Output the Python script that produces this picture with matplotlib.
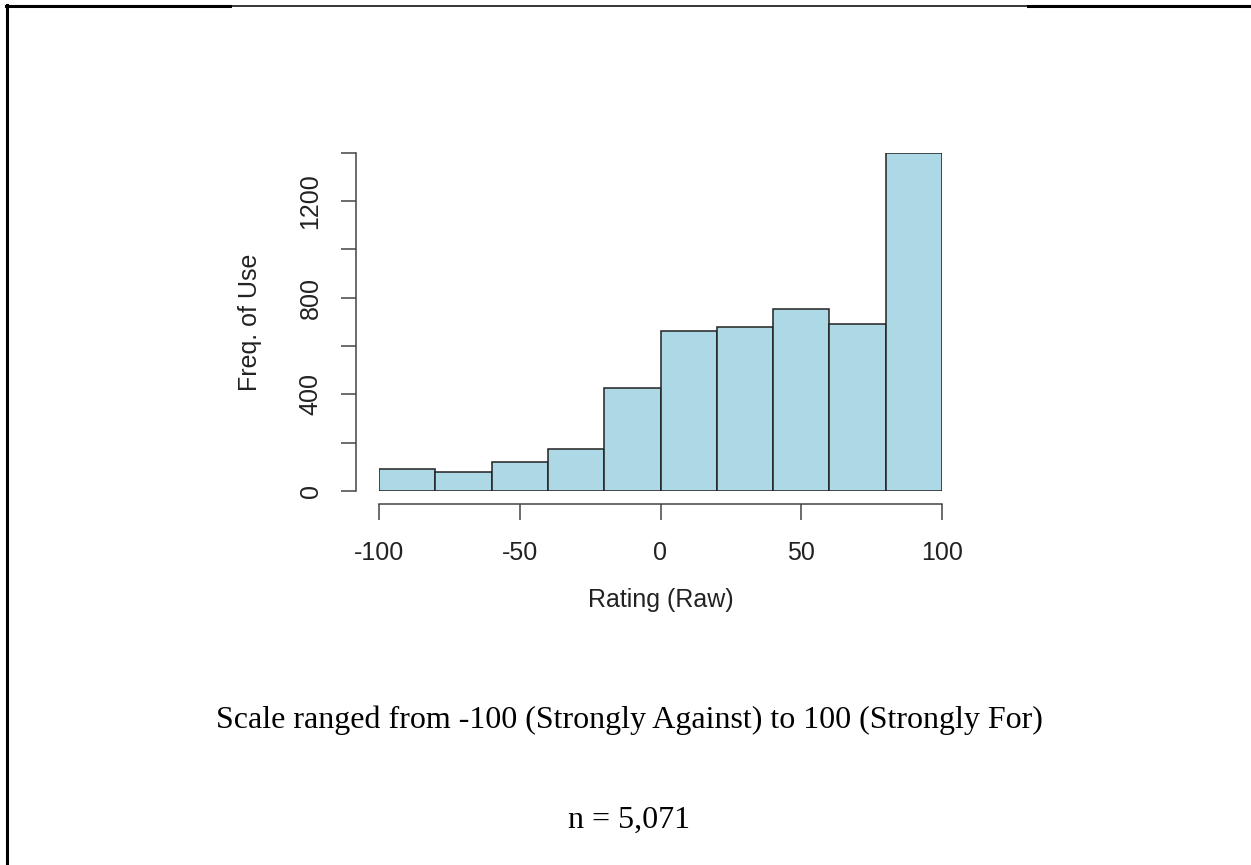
import matplotlib.pyplot as plt
from matplotlib.lines import Line2D

# histogram of ratings, bins of 20 from -100 to 100
bin_edges = [-100, -80, -60, -40, -20, 0, 20, 40, 60, 80, 100]
counts = [91, 77, 119, 173, 427, 661, 678, 752, 693, 1400]
x_ticks = [-100, -50, 0, 50, 100]
y_ticks = [0, 200, 400, 600, 800, 1000, 1200, 1400]
y_tick_labels = ['0', '', '400', '', '800', '', '1200', '']

W, H = 1251, 865
fig = plt.figure(figsize=(W / 100, H / 100), dpi=100)

def px(x0, y0, x1, y1):
    # pixel box (top-left origin) -> figure fraction rect
    return [x0 / W, 1 - y1 / H, (x1 - x0) / W, (y1 - y0) / H]

ax = fig.add_axes(px(379, 152.7, 942, 491))
ax.bar(bin_edges[:-1], counts, width=20, align='edge',
       color='#add8e6', edgecolor='#222222', linewidth=1.1)
ax.set_xlim(-100, 100)
ax.set_ylim(0, 1400)

sans = 'Liberation Sans'
for s in ['top', 'right']:
    ax.spines[s].set_visible(False)
ax.spines['bottom'].set_position(('outward', 9.4))
ax.spines['left'].set_position(('outward', 16.6))
ax.spines['bottom'].set_bounds(-100, 100)
ax.spines['left'].set_bounds(0, 1400)
for s in ['bottom', 'left']:
    ax.spines[s].set_color('#444444')
    ax.spines[s].set_linewidth(1.1)

ax.set_xticks(x_ticks)
ax.set_xticklabels([str(v) for v in x_ticks], fontsize=18, family=sans, color='#222222')
ax.set_yticks(y_ticks)
ax.set_yticklabels(y_tick_labels, fontsize=18, family=sans, color='#222222',
                   rotation=90, va='center')
ax.tick_params(axis='x', length=11.5, width=1.1, color='#444444', pad=15)
ax.tick_params(axis='y', length=11, width=1.1, color='#444444', pad=13)

ax.set_xlabel('Rating (Raw)', fontsize=18, family=sans, color='#222222', va='center')
ax.xaxis.set_label_coords(0.5, (491 - 600) / (491 - 152.7))
ax.set_ylabel('Freq. of Use', fontsize=18, family=sans, color='#222222', va='center')
ax.yaxis.set_label_coords((250 - 379) / 563, 0.5)

serif = 'Liberation Serif'
fig.text(629 / W, 1 - 720 / H, 'Scale ranged from -100 (Strongly Against) to 100 (Strongly For)',
         fontsize=23, family=serif, ha='center', va='center')
fig.text(629 / W, 1 - 820 / H, 'n = 5,071', fontsize=23, family=serif, ha='center', va='center')

# page border pieces
def hline(x0, x1, y, lw):
    fig.add_artist(Line2D([x0 / W, x1 / W], [1 - y / H, 1 - y / H], color='black', lw=lw))

hline(6, 230, 5.5, 2.2)
hline(230, 1028, 5.5, 1.1)
hline(1028, 1251, 5.5, 2.2)
fig.add_artist(Line2D([6.5 / W, 6.5 / W], [1 - 5 / H, 0], color='black', lw=2.2))

fig.savefig('out.png', dpi=100)
